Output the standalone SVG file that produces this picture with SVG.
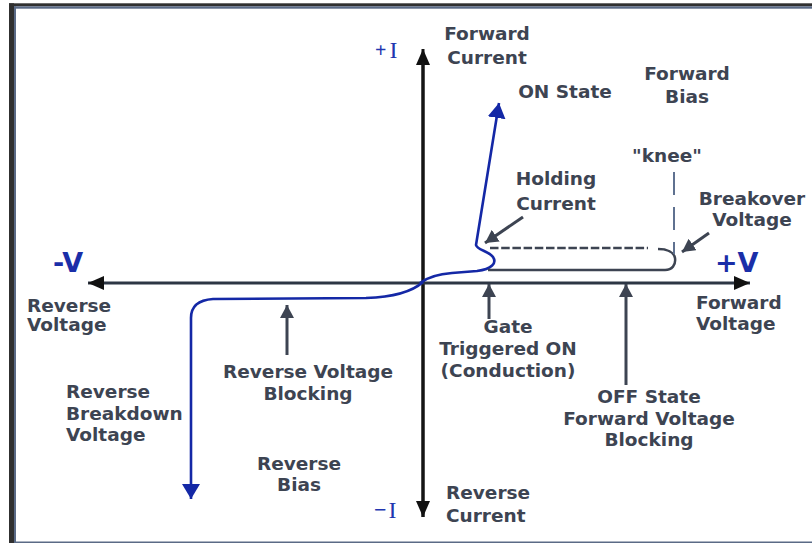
<svg xmlns="http://www.w3.org/2000/svg" width="812" height="543" viewBox="0 0 812 543">
<style>
.t{font-family:"DejaVu Sans",Verdana,sans-serif;font-weight:bold;font-size:18.5px;fill:#3d4452}
.m{text-anchor:middle}
.big{font-family:"DejaVu Sans",Verdana,sans-serif;font-weight:bold;font-size:27px;fill:#1a2ea8}
.ser{font-family:"Liberation Serif","Times New Roman",serif;font-size:24px;fill:#2236b0}
.axis{stroke-width:3;fill:none}
.ptr{stroke:#3d4452;stroke-width:3;fill:none;marker-end:url(#ph)}
.blue{stroke:#1428a6;stroke-width:2.6;fill:none;stroke-linejoin:round}
</style>
<defs>
<marker id="ah" markerUnits="userSpaceOnUse" markerWidth="16" markerHeight="14" refX="16" refY="7" orient="auto"><path d="M0,0 L16,7 L0,14 z" fill="#111"/></marker>
<marker id="ph" markerUnits="userSpaceOnUse" markerWidth="13" markerHeight="14" refX="13" refY="7" orient="auto"><path d="M0,0 L13,7 L0,14 z" fill="#3d4452"/></marker>
<marker id="bh" markerUnits="userSpaceOnUse" markerWidth="15" markerHeight="18" refX="15" refY="9" orient="auto"><path d="M0,0 L15,9 L0,18 z" fill="#1428a6"/></marker>
</defs>
<rect width="812" height="543" fill="#ffffff"/>
<g id="frame">
<rect x="9" y="3.3" width="803" height="3" fill="#303030"/>
<rect x="14" y="6.3" width="798" height="2.4" fill="#5a6a86"/>
<rect x="9" y="3.3" width="5" height="540" fill="#303030"/>
<rect x="14" y="6.3" width="2" height="537" fill="#5a6a86"/>
<rect x="14" y="541.5" width="798" height="1.5" fill="#5a6a86"/>
</g>
<g id="connectors">
<line class="axis" x1="423" y1="517" x2="423" y2="49" stroke="#151515" marker-end="url(#ah)"/>
<line class="axis" x1="423" y1="62" x2="423" y2="517" stroke="#151515" marker-end="url(#ah)"/>
<line class="axis" x1="423" y1="283" x2="88" y2="283" stroke="#2d3644" marker-end="url(#ah)"/>
<line class="axis" x1="423" y1="283" x2="750" y2="283" stroke="#2d3644" marker-end="url(#ah)"/>
<path class="blue" d="M420,283 C428,277 438,274 452,273 L477,271 C492,269 497,263 493,257 C489,251 477,250 476,245 L499,103" marker-end="url(#bh)"/>
<path class="blue" d="M423,282 C413,291 396,297 366,298 L213,299 C198,300 191,306 191,318 L191,499" marker-end="url(#bh)"/>
<path d="M488,270 L665,270 C672,270 676,265 675,258 C674,252 667,249 658,249" stroke="#3d4452" stroke-width="2.5" fill="none"/>
<line x1="490" y1="248" x2="648" y2="248" stroke="#3d4452" stroke-width="2.5" stroke-dasharray="8.5 2.7"/>
<line x1="674" y1="172" x2="674" y2="254" stroke="#5f7190" stroke-width="2" stroke-dasharray="23 12"/>
<line class="ptr" x1="523" y1="217" x2="485" y2="243"/>
<line class="ptr" x1="709" y1="233" x2="682" y2="252"/>
<line class="ptr" x1="287" y1="355" x2="287" y2="305"/>
<line class="ptr" x1="489" y1="319" x2="489" y2="284"/>
<line class="ptr" x1="626" y1="385" x2="626" y2="284"/>
</g>
<g id="axis-labels">
<text class="ser" x="375" y="58"><tspan font-size="20" font-weight="bold" dy="-1">+</tspan><tspan dx="3" dy="1">I</tspan></text>
<text class="ser" x="374" y="518"><tspan font-size="22" font-weight="bold" dy="-1">−</tspan><tspan dx="2" dy="1">I</tspan></text>
<text class="big" x="53" y="272">-V</text>
<text class="big" x="715" y="272">+V</text>
</g>
<g id="forward-current"><text class="t m" x="487" y="40">Forward</text><text class="t m" x="487" y="64">Current</text></g>
<g id="on-state"><text class="t m" x="565" y="98">ON State</text></g>
<g id="forward-bias"><text class="t m" x="687" y="80">Forward</text><text class="t m" x="687" y="103">Bias</text></g>
<g id="knee"><text class="t m" x="667" y="162">"knee"</text></g>
<g id="holding-current"><text class="t m" x="556" y="185">Holding</text><text class="t m" x="556" y="210">Current</text></g>
<g id="breakover-voltage"><text class="t m" x="752" y="205">Breakover</text><text class="t m" x="752" y="226">Voltage</text></g>
<g id="reverse-voltage"><text class="t" x="27" y="312">Reverse</text><text class="t" x="27" y="331">Voltage</text></g>
<g id="forward-voltage"><text class="t" x="696" y="309">Forward</text><text class="t" x="696" y="330">Voltage</text></g>
<g id="gate-triggered"><text class="t m" x="508" y="333">Gate</text><text class="t m" x="508" y="354.5">Triggered ON</text><text class="t m" x="508" y="377">(Conduction)</text></g>
<g id="reverse-voltage-blocking"><text class="t m" x="308" y="378">Reverse Voltage</text><text class="t m" x="308" y="400">Blocking</text></g>
<g id="reverse-breakdown"><text class="t" x="66" y="398">Reverse</text><text class="t" x="66" y="420">Breakdown</text><text class="t" x="66" y="441">Voltage</text></g>
<g id="reverse-bias"><text class="t m" x="299" y="470">Reverse</text><text class="t m" x="299" y="491">Bias</text></g>
<g id="off-state"><text class="t m" x="649" y="403">OFF State</text><text class="t m" x="649" y="425">Forward Voltage</text><text class="t m" x="649" y="446">Blocking</text></g>
<g id="reverse-current"><text class="t" x="446" y="499">Reverse</text><text class="t" x="446" y="522">Current</text></g>
</svg>
